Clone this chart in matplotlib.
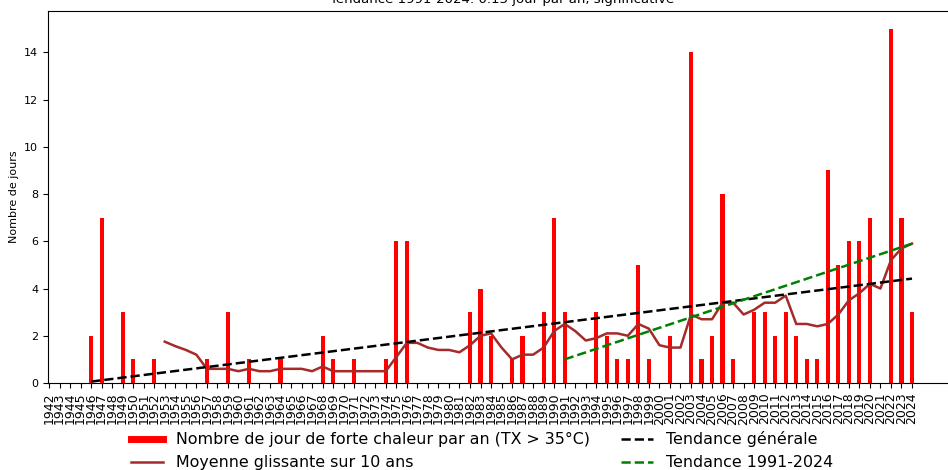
import numpy as np
import matplotlib
matplotlib.use("Agg")
import matplotlib.pyplot as plt
from matplotlib.lines import Line2D

years = list(range(1942, 2025))
# heat days per year (1942-1945 missing)
hot_days = [np.nan, np.nan, np.nan, np.nan,
            2, 7, 0, 3, 1, 0, 1, 0, 0, 0, 0, 1, 0, 3, 0, 1,
            0, 0, 1, 0, 0, 0, 2, 1, 0, 1, 0, 0, 1, 6, 6, 0,
            0, 0, 0, 0, 3, 4, 2, 0, 1, 2, 0, 3, 7, 3, 0, 0,
            3, 2, 1, 1, 5, 1, 0, 2, 0, 14, 1, 2, 8, 1, 0, 3,
            3, 2, 3, 2, 1, 1, 9, 5, 6, 6, 7, 0, 15, 7, 3]

ma_years = list(range(1953, 2025))
moving_avg = [1.75, 1.56, 1.4, 1.2, 0.6, 0.6, 0.6, 0.5, 0.6, 0.5,
              0.5, 0.6, 0.6, 0.6, 0.5, 0.7, 0.5, 0.5, 0.5, 0.5,
              0.5, 0.5, 1.1, 1.7, 1.7, 1.5, 1.4, 1.4, 1.3, 1.6,
              2.0, 2.1, 1.5, 1.0, 1.2, 1.2, 1.5, 2.2, 2.5, 2.2,
              1.8, 1.9, 2.1, 2.1, 2.0, 2.5, 2.3, 1.6, 1.5, 1.5,
              2.9, 2.7, 2.7, 3.4, 3.4, 2.9, 3.1, 3.4, 3.4, 3.7,
              2.5, 2.5, 2.4, 2.5, 2.9, 3.5, 3.8, 4.2, 4.0, 5.2,
              5.7, 5.9]

trend_all_years = [1946, 2024]
trend_all_vals = [0.06, 4.42]
trend_recent_years = [1991, 2024]
trend_recent_vals = [1.0, 5.9]

title = "Tendance 1991-2024: 0.15 jour par an, significative"

fig = plt.figure(figsize=(9.48, 4.70), dpi=100)
W, H = 948, 470
ax = fig.add_axes([48 / W, 87 / H, (957 - 48) / W, (383 - 11) / H])

ax.bar(years, hot_days, width=0.4, color="red")
ax.plot(ma_years, moving_avg, color="brown", lw=1.8)
ax.plot(trend_all_years, trend_all_vals, color="black", ls="--", lw=1.8)
ax.plot(trend_recent_years, trend_recent_vals, color="green", ls="--", lw=1.8)

px_per_year = (912 - 49) / 82
ax.set_xlim(1942 - 1 / px_per_year, 2024 + (957 - 912) / px_per_year)
ax.set_ylim(0, 15.75)
ax.set_xticks(years)
ax.set_xticklabels([str(y) for y in years], rotation=90, fontsize=9)
ax.set_yticks(range(0, 15, 2))
ax.tick_params(axis="y", labelsize=8)
ax.set_ylabel("Nombre de jours", fontsize=8)
ax.set_title(title, fontsize=9.5)

handles = [Line2D([], [], color="red", lw=5),
           Line2D([], [], color="brown", lw=1.8),
           Line2D([], [], color="black", ls="--", lw=1.8),
           Line2D([], [], color="green", ls="--", lw=1.8)]
labels = ["Nombre de jour de forte chaleur par an (TX > 35°C)",
          "Moyenne glissante sur 10 ans",
          "Tendance générale",
          "Tendance 1991-2024"]
fig.legend(handles, labels, ncol=2, fontsize=11.4, frameon=False,
           loc="upper center", bbox_to_anchor=(482 / W, 1 - 417 / H))

fig.savefig("out.png", dpi=100)
